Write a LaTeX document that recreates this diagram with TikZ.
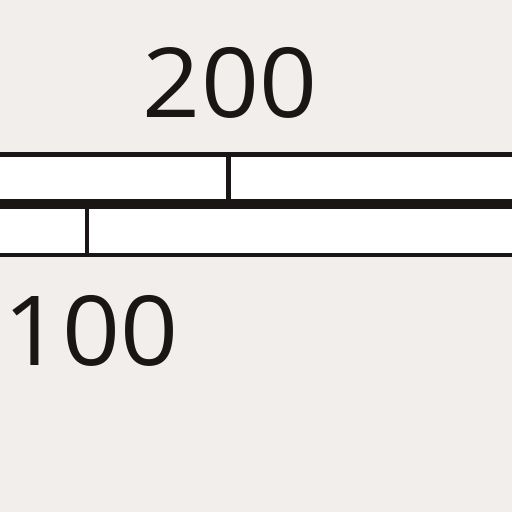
\documentclass[tikz,border=0pt]{standalone}
\usepackage{fontspec}
\setmainfont{Open Sans}
\usepackage{tikz}
\usetikzlibrary{positioning}
\usetikzlibrary{calc}
\definecolor{paper}{HTML}{F2EEEB}
\definecolor{ink}{HTML}{1A1616}

\begin{document}
\begin{tikzpicture}[
    x=0.02cm, y=-0.02cm,
    scale bar/.style={draw=ink, line width=2.6pt, fill=white},
    axis line/.style={draw=ink, line width=5.4pt},
    tick/.style={draw=ink, line width=2.6pt},
    value/.style={text=ink, font=\fontsize{55}{62}\selectfont, inner sep=0pt}
  ]

  \fill[paper] (0,0) rectangle (512,512);
  \useasboundingbox (0,0) rectangle (512,512);

  % two strips
  \filldraw[scale bar] (-10,154.5) rectangle (522,204);
  \filldraw[scale bar] (-10,204) rectangle (522,255);
  \draw[axis line] (-10,204) -- (522,204);

  \coordinate (top_tick) at (228.5,154.5);
  \coordinate (top_base) at (228.5,204);
  \coordinate (bot_tick) at (87,255);
  \coordinate (bot_base) at (87,204);

  \draw[tick] (top_tick) -- (top_base);
  \draw[tick] (bot_base) -- (bot_tick);

  \node[value, anchor=base, xscale=1.05] (upper) at (230,117) {200};
  \node[value, anchor=base, xscale=1.05] (lower) at (91,365) {100};

\end{tikzpicture}
\end{document}
